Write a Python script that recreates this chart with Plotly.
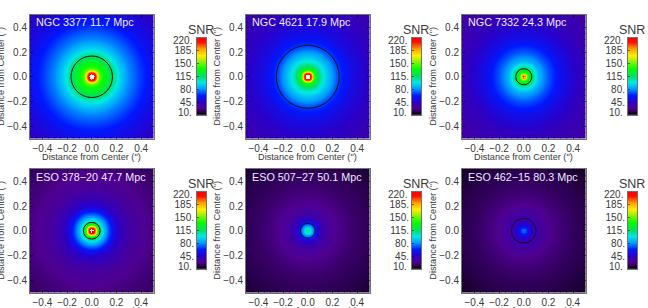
import numpy as np
import plotly.graph_objects as go

W, H = 648, 308
galaxy_labels = ["NGC 3377 11.7 Mpc", "NGC 4621 17.9 Mpc", "NGC 7332 24.3 Mpc",
                 "ESO 378−20 47.7 Mpc", "ESO 507−27 50.1 Mpc", "ESO 462−15 80.3 Mpc"]
circle_radius = [0.168, 0.255, 0.065, 0.068, 0.060, 0.100]

radii_3377 = [0, 0.014, 0.03, 0.045, 0.06, 0.08, 0.12, 0.168, 0.22, 0.30, 0.40, 0.50, 0.71]
snr_3377 = [240, 223, 205, 170, 148, 138, 126, 112, 95, 78, 66, 56, 42]
radii_4621 = [0, 0.012, 0.03, 0.04, 0.05, 0.065, 0.08, 0.12, 0.16, 0.20, 0.255, 0.35, 0.50, 0.71]
snr_4621 = [240, 223, 195, 160, 138, 125, 116, 100, 90, 80, 66, 54, 44, 36]
radii_7332 = [0, 0.008, 0.015, 0.025, 0.04, 0.065, 0.09, 0.13, 0.20, 0.30, 0.40, 0.50, 0.71]
snr_7332 = [215, 195, 170, 148, 130, 114, 100, 84, 70, 56, 47, 40, 33]
radii_e378 = [0, 0.0085, 0.02, 0.03, 0.04, 0.055, 0.068, 0.10, 0.14, 0.18, 0.24, 0.34, 0.50, 0.71]
snr_e378 = [240, 223, 210, 180, 150, 125, 108, 86, 68, 52, 40, 31, 25, 20]
radii_e507 = [0, 0.012, 0.025, 0.04, 0.06, 0.08, 0.11, 0.16, 0.25, 0.40, 0.50, 0.71]
snr_e507 = [112, 105, 92, 78, 62, 48, 38, 31, 26, 21, 19, 15]
radii_e462 = [0, 0.01, 0.02, 0.04, 0.07, 0.10, 0.16, 0.25, 0.40, 0.50, 0.71]
snr_e462 = [76, 72, 64, 52, 42, 36, 30, 25, 20, 18, 14]

profiles = [(radii_3377, snr_3377), (radii_4621, snr_4621), (radii_7332, snr_7332),
            (radii_e378, snr_e378), (radii_e507, snr_e507), (radii_e462, snr_e462)]

x_ticks = [-0.4, -0.2, 0.0, 0.2, 0.4]
x_ticktext = ["−0.4", "−0.2", "0.0", "0.2", "0.4"]
cbar_ticks = [10, 45, 80, 115, 150, 185, 220]
cbar_ticktext = ["10.", "45.", "80.", "115.", "150.", "185.", "220."]

ZMIN, ZTOP, ZMAX = 10, 220, 240
palette = [(10, "#000000"), (18, "#2a0050"), (27, "#4f0090"), (45, "#2a00c8"), (62, "#0018ff"), (80, "#0098ff"),
           (98, "#00e8e8"), (115, "#00e060"), (135, "#00ff00"), (160, "#b0f000"), (172, "#fff000"),
           (190, "#ffa000"), (208, "#ff1000"), (220, "#ff0000")]
colorscale = [[(v - ZMIN) / (ZMAX - ZMIN), c] for v, c in palette]
colorscale += [[(ZTOP + 0.5 - ZMIN) / (ZMAX - ZMIN), "#ffffff"], [1.0, "#ffffff"]]

panel_left = [30, 246, 462]
panel_top = [15, 169]
panel_size = 123.5
bar_left = [197, 412, 628]
bar_w, bar_top_off, bar_h = 9, 23, 77
TEXT = "#3a3a3a"
FONT = "Liberation Sans"
FRAME = "rgba(80,80,80,0.8)"

grid = np.linspace(-0.5, 0.5, 123)
xx, yy = np.meshgrid(grid, grid)
rr = np.hypot(xx, yy)

fig = go.Figure()
shapes, annotations = [], []

def px(x): return x / W
def py(y): return 1 - y / H

layout = {}
for i, (label, rad, prof) in enumerate(zip(galaxy_labels, circle_radius, profiles)):
    col, row = i % 3, i // 3
    left, top = panel_left[col], panel_top[row]
    z = np.interp(rr, prof[0], prof[1])
    a = 2 * i + 1
    b = 2 * i + 2
    fig.add_trace(go.Heatmap(x=grid, y=grid, z=z, zmin=ZMIN, zmax=ZMAX, colorscale=colorscale,
                             showscale=False, hoverinfo="skip", xaxis=f"x{a}", yaxis=f"y{a}"))
    axis_common = dict(range=[-0.5, 0.5], tickvals=x_ticks, ticktext=x_ticktext, ticks="inside",
                       ticklen=3, tickwidth=1, tickcolor="rgba(0,0,0,0.55)", showgrid=False, zeroline=False,
                       showline=True, linecolor=FRAME, linewidth=1, mirror="allticks",
                       tickfont=dict(family=FONT, size=10, color=TEXT),
                       minor=dict(ticks="inside", ticklen=2, tickwidth=1, tickcolor="rgba(0,0,0,0.3)",
                                  dtick=0.05, tick0=0, showgrid=False))
    layout[f"xaxis{a}"] = dict(axis_common, domain=[px(left), px(left + panel_size)], anchor=f"y{a}")
    layout[f"yaxis{a}"] = dict(axis_common, domain=[py(top + panel_size), py(top)], anchor=f"x{a}")
    shapes.append(dict(type="circle", xref=f"x{a}", yref=f"y{a}", x0=-rad, x1=rad, y0=-rad, y1=rad,
                       line=dict(color="#101010", width=1)))
    annotations.append(dict(text=label, xref="paper", yref="paper", x=px(left + 4), y=py(top + 7.5),
                            xanchor="left", yanchor="middle", showarrow=False,
                            font=dict(family=FONT, size=10.8, color="#eeeaff")))
    annotations.append(dict(text='Distance from Center (")', xref="paper", yref="paper",
                            x=px(left + panel_size / 2), y=py(top + panel_size + 18.5), xanchor="center",
                            yanchor="middle", showarrow=False, font=dict(family=FONT, size=9.2, color=TEXT)))
    annotations.append(dict(text='Distance from Center (")', xref="paper", yref="paper",
                            x=px(left - 29), y=py(top + panel_size / 2), xanchor="center", yanchor="middle",
                            textangle=-90, showarrow=False, font=dict(family=FONT, size=9.2, color=TEXT)))

    # colour bar, drawn as its own small heatmap axis
    bl = bar_left[col]
    bt = top + bar_top_off
    levels = np.arange(ZMIN, ZTOP + 1)
    fig.add_trace(go.Heatmap(x=[0, 1], y=levels, z=np.column_stack([levels, levels]), zmin=ZMIN, zmax=ZMAX,
                             colorscale=colorscale, showscale=False, hoverinfo="skip",
                             xaxis=f"x{b}", yaxis=f"y{b}"))
    layout[f"xaxis{b}"] = dict(domain=[px(bl), px(bl + bar_w)], anchor=f"y{b}", range=[0, 1], showticklabels=False,
                               ticks="", showgrid=False, zeroline=False, showline=True, linecolor=FRAME,
                               linewidth=1, mirror=True)
    layout[f"yaxis{b}"] = dict(domain=[py(bt + bar_h), py(bt)], anchor=f"x{b}", range=[ZMIN, ZTOP],
                               tickvals=cbar_ticks[1:-1], ticktext=cbar_ticktext[1:-1], ticks="inside", ticklen=2,
                               tickcolor="rgba(0,0,0,0.5)", showgrid=False, zeroline=False, showline=True,
                               linecolor=FRAME, linewidth=1, mirror=True,
                               tickfont=dict(family=FONT, size=10, color=TEXT))
    for val, txt, shift in [(10, cbar_ticktext[0], 2.5), (220, cbar_ticktext[-1], -2.5)]:
        annotations.append(dict(text=txt, xref=f"x{b} domain", yref=f"y{b}", x=0, y=val, yshift=shift, xshift=-3,
                                xanchor="right", yanchor="middle", showarrow=False,
                                font=dict(family=FONT, size=10, color=TEXT)))
    annotations.append(dict(text="SNR", xref="paper", yref="paper", x=px(bl + 4), y=py(bt - 8),
                            xanchor="center", yanchor="middle", showarrow=False,
                            font=dict(family=FONT, size=12.5, color=TEXT)))

fig.update_layout(width=W, height=H, margin=dict(l=0, r=0, t=0, b=0), paper_bgcolor="white",
                  plot_bgcolor="white", showlegend=False, shapes=shapes, annotations=annotations, **layout)
fig.write_html("out.html", config={"displayModeBar": False},
               post_script="document.body.style.margin='0';document.body.style.overflow='hidden';")
